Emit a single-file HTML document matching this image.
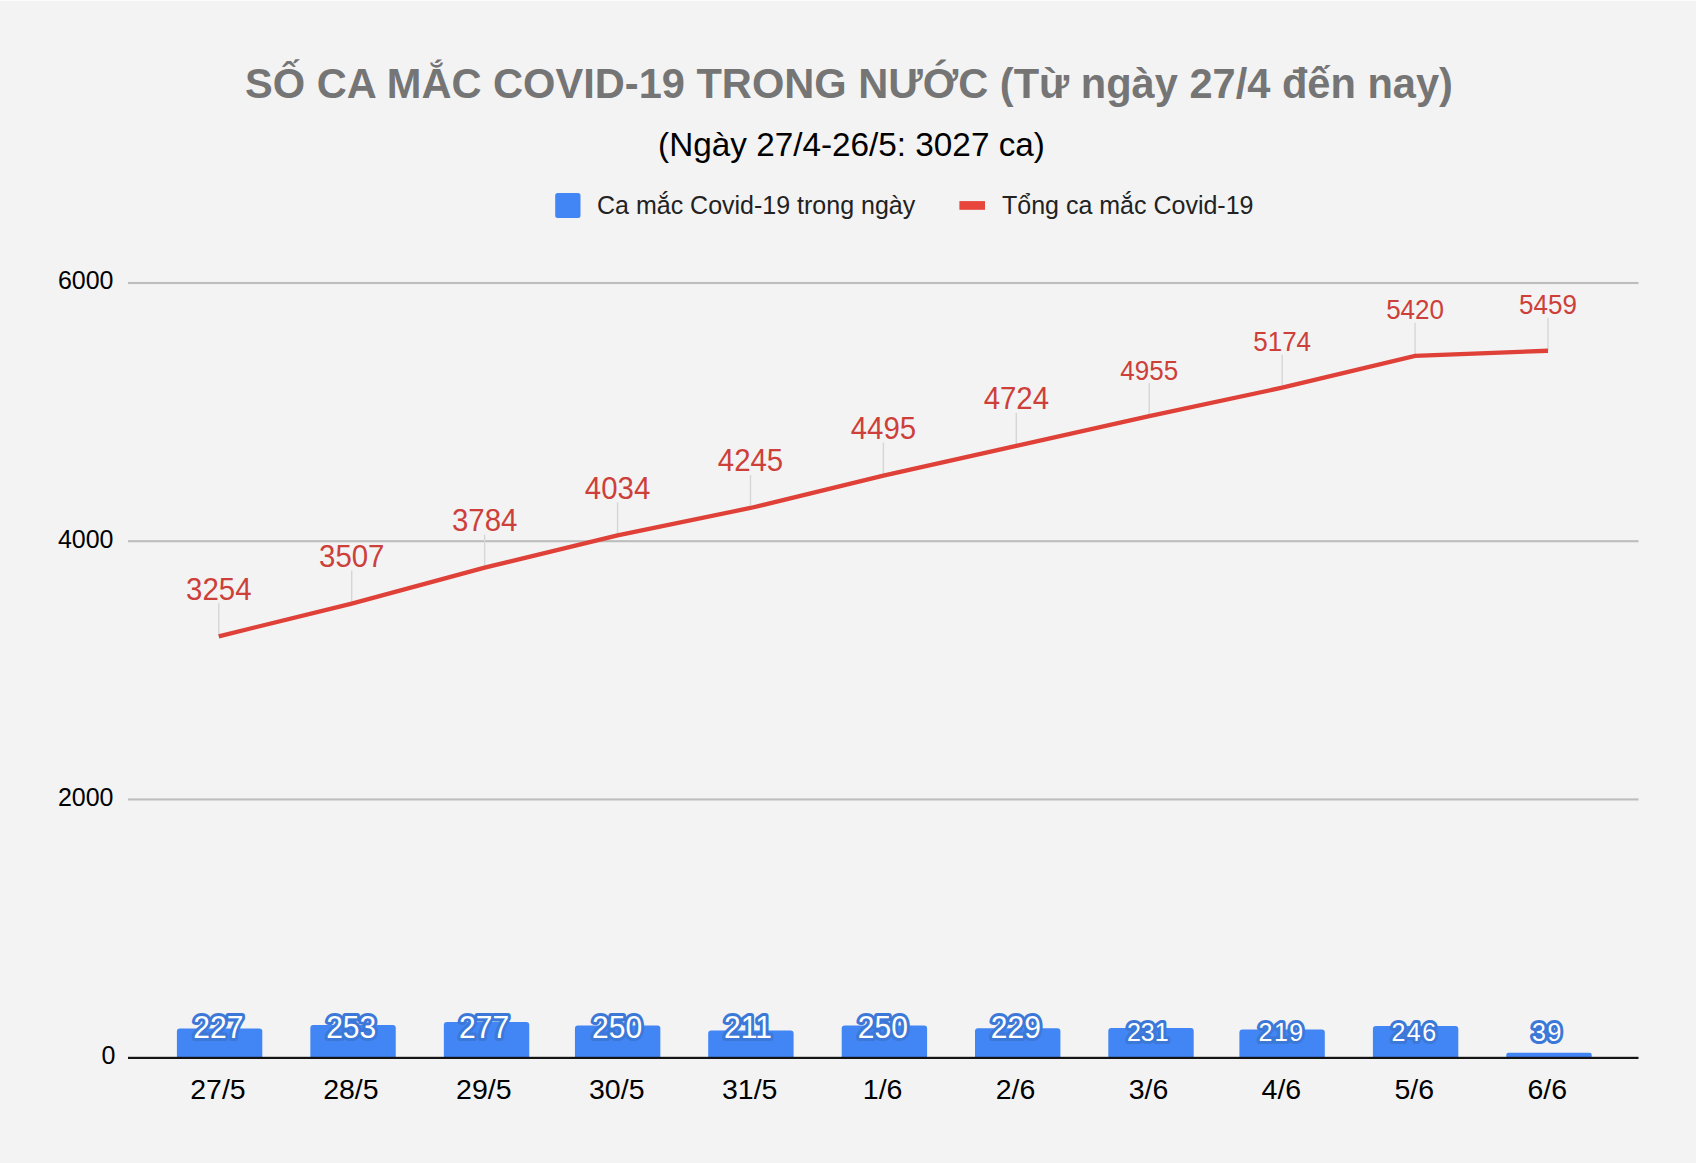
<!DOCTYPE html>
<html><head><meta charset="utf-8"><style>
html,body{margin:0;padding:0;background:#f3f3f3;width:1696px;height:1163px;overflow:hidden}
svg{display:block}
text{font-family:"Liberation Sans",sans-serif}
</style></head><body>
<svg width="1696" height="1163" viewBox="0 0 1696 1163">
<rect width="1696" height="1163" fill="#f3f3f3"/>
<rect width="1696" height="1" fill="#fdfdfd"/>
<text x="849" y="97.8" text-anchor="middle" font-family="Liberation Sans" font-weight="bold" font-size="41.6" fill="#757575">SỐ CA MẮC COVID-19 TRONG NƯỚC (Từ ngày 27/4 đến nay)</text>
<text x="851.5" y="155.8" text-anchor="middle" font-family="Liberation Sans" font-size="33.3" fill="#000">(Ngày 27/4-26/5: 3027 ca)</text>
<rect x="555.2" y="193" width="25.3" height="25" rx="2.5" fill="#4285f4"/>
<text x="597" y="214" font-family="Liberation Sans" font-size="25" fill="#222">Ca mắc Covid-19 trong ngày</text>
<rect x="959.4" y="201.1" width="25.6" height="8.7" fill="#e8453c"/>
<text x="1002" y="214" font-family="Liberation Sans" font-size="25" fill="#222">Tổng ca mắc Covid-19</text>
<rect x="128" y="281.95" width="1510.5" height="2.1" fill="#bdbdbd"/>
<rect x="128" y="540.15" width="1510.5" height="2.1" fill="#bdbdbd"/>
<rect x="128" y="798.40" width="1510.5" height="2.1" fill="#bdbdbd"/>
<text x="113.5" y="289.30" text-anchor="end" font-family="Liberation Sans" font-size="25" fill="#000">6000</text>
<text x="113.5" y="547.50" text-anchor="end" font-family="Liberation Sans" font-size="25" fill="#000">4000</text>
<text x="113.5" y="805.75" text-anchor="end" font-family="Liberation Sans" font-size="25" fill="#000">2000</text>
<text x="115.5" y="1064.20" text-anchor="end" font-family="Liberation Sans" font-size="25" fill="#000">0</text>
<path d="M176.90,1057.70 L176.90,1031.39 Q176.90,1028.39 179.90,1028.39 L259.30,1028.39 Q262.30,1028.39 262.30,1031.39 L262.30,1057.70 Z" fill="#4285f4"/>
<path d="M310.35,1057.70 L310.35,1028.04 Q310.35,1025.04 313.35,1025.04 L392.75,1025.04 Q395.75,1025.04 395.75,1028.04 L395.75,1057.70 Z" fill="#4285f4"/>
<path d="M443.85,1057.70 L443.85,1024.94 Q443.85,1021.94 446.85,1021.94 L526.25,1021.94 Q529.25,1021.94 529.25,1024.94 L529.25,1057.70 Z" fill="#4285f4"/>
<path d="M574.95,1057.70 L574.95,1028.42 Q574.95,1025.42 577.95,1025.42 L657.35,1025.42 Q660.35,1025.42 660.35,1028.42 L660.35,1057.70 Z" fill="#4285f4"/>
<path d="M708.20,1057.70 L708.20,1033.46 Q708.20,1030.46 711.20,1030.46 L790.60,1030.46 Q793.60,1030.46 793.60,1033.46 L793.60,1057.70 Z" fill="#4285f4"/>
<path d="M841.70,1057.70 L841.70,1028.42 Q841.70,1025.42 844.70,1025.42 L924.10,1025.42 Q927.10,1025.42 927.10,1028.42 L927.10,1057.70 Z" fill="#4285f4"/>
<path d="M975.00,1057.70 L975.00,1031.14 Q975.00,1028.14 978.00,1028.14 L1057.40,1028.14 Q1060.40,1028.14 1060.40,1031.14 L1060.40,1057.70 Z" fill="#4285f4"/>
<path d="M1108.30,1057.70 L1108.30,1030.88 Q1108.30,1027.88 1111.30,1027.88 L1190.70,1027.88 Q1193.70,1027.88 1193.70,1030.88 L1193.70,1057.70 Z" fill="#4285f4"/>
<path d="M1239.40,1057.70 L1239.40,1032.43 Q1239.40,1029.43 1242.40,1029.43 L1321.80,1029.43 Q1324.80,1029.43 1324.80,1032.43 L1324.80,1057.70 Z" fill="#4285f4"/>
<path d="M1372.90,1057.70 L1372.90,1028.94 Q1372.90,1025.94 1375.90,1025.94 L1455.30,1025.94 Q1458.30,1025.94 1458.30,1028.94 L1458.30,1057.70 Z" fill="#4285f4"/>
<path d="M1506.30,1057.70 L1506.30,1054.67 Q1506.30,1052.67 1508.30,1052.67 L1589.70,1052.67 Q1591.70,1052.67 1591.70,1054.67 L1591.70,1057.70 Z" fill="#4285f4"/>
<rect x="128" y="1056.8" width="1510.5" height="2.2" fill="#141414"/>
<text transform="translate(218.30,1037.6) scale(1,1.02)" text-anchor="middle" font-family="Liberation Sans" font-size="30" fill="#fff" stroke="#3c78d8" stroke-width="6" stroke-linejoin="round" paint-order="stroke">227</text>
<text transform="translate(351.22,1037.6) scale(1,1.02)" text-anchor="middle" font-family="Liberation Sans" font-size="30" fill="#fff" stroke="#3c78d8" stroke-width="6" stroke-linejoin="round" paint-order="stroke">253</text>
<text transform="translate(484.14,1037.6) scale(1,1.02)" text-anchor="middle" font-family="Liberation Sans" font-size="30" fill="#fff" stroke="#3c78d8" stroke-width="6" stroke-linejoin="round" paint-order="stroke">277</text>
<text transform="translate(617.06,1037.6) scale(1,1.02)" text-anchor="middle" font-family="Liberation Sans" font-size="30" fill="#fff" stroke="#3c78d8" stroke-width="6" stroke-linejoin="round" paint-order="stroke">250</text>
<text transform="translate(747.98,1037.6) scale(1,1.02)" text-anchor="middle" font-family="Liberation Sans" font-size="30" fill="#fff" stroke="#3c78d8" stroke-width="6" stroke-linejoin="round" paint-order="stroke">211</text>
<text transform="translate(882.90,1037.6) scale(1,1.02)" text-anchor="middle" font-family="Liberation Sans" font-size="30" fill="#fff" stroke="#3c78d8" stroke-width="6" stroke-linejoin="round" paint-order="stroke">250</text>
<text transform="translate(1015.82,1037.6) scale(1,1.02)" text-anchor="middle" font-family="Liberation Sans" font-size="30" fill="#fff" stroke="#3c78d8" stroke-width="6" stroke-linejoin="round" paint-order="stroke">229</text>
<text transform="translate(1147.74,1041.2) scale(1,1.02)" text-anchor="middle" font-family="Liberation Sans" font-size="25" fill="#fff" stroke="#3c78d8" stroke-width="6" stroke-linejoin="round" paint-order="stroke">231</text>
<text transform="translate(1281.66,1041.2) scale(1,1.02)" text-anchor="middle" font-family="Liberation Sans" font-size="25" letter-spacing="1.5" fill="#fff" stroke="#3c78d8" stroke-width="6" stroke-linejoin="round" paint-order="stroke">219</text>
<text transform="translate(1414.58,1041.2) scale(1,1.02)" text-anchor="middle" font-family="Liberation Sans" font-size="25" letter-spacing="1.5" fill="#fff" stroke="#3c78d8" stroke-width="6" stroke-linejoin="round" paint-order="stroke">246</text>
<text transform="translate(1547.50,1041.2) scale(1,1.02)" text-anchor="middle" font-family="Liberation Sans" font-size="25" letter-spacing="1.5" fill="#fff" stroke="#3c78d8" stroke-width="6" stroke-linejoin="round" paint-order="stroke">39</text>
<text x="218.00" y="1098.7" text-anchor="middle" font-family="Liberation Sans" font-size="28.5" fill="#000">27/5</text>
<text x="350.92" y="1098.7" text-anchor="middle" font-family="Liberation Sans" font-size="28.5" fill="#000">28/5</text>
<text x="483.84" y="1098.7" text-anchor="middle" font-family="Liberation Sans" font-size="28.5" fill="#000">29/5</text>
<text x="616.76" y="1098.7" text-anchor="middle" font-family="Liberation Sans" font-size="28.5" fill="#000">30/5</text>
<text x="749.68" y="1098.7" text-anchor="middle" font-family="Liberation Sans" font-size="28.5" fill="#000">31/5</text>
<text x="882.60" y="1098.7" text-anchor="middle" font-family="Liberation Sans" font-size="28.5" fill="#000">1/6</text>
<text x="1015.52" y="1098.7" text-anchor="middle" font-family="Liberation Sans" font-size="28.5" fill="#000">2/6</text>
<text x="1148.44" y="1098.7" text-anchor="middle" font-family="Liberation Sans" font-size="28.5" fill="#000">3/6</text>
<text x="1281.36" y="1098.7" text-anchor="middle" font-family="Liberation Sans" font-size="28.5" fill="#000">4/6</text>
<text x="1414.28" y="1098.7" text-anchor="middle" font-family="Liberation Sans" font-size="28.5" fill="#000">5/6</text>
<text x="1547.20" y="1098.7" text-anchor="middle" font-family="Liberation Sans" font-size="28.5" fill="#000">6/6</text>
<rect x="218.10" y="603.31" width="1.4" height="33" fill="#d6d6d6"/>
<rect x="351.02" y="570.54" width="1.4" height="33" fill="#d6d6d6"/>
<rect x="483.94" y="534.67" width="1.4" height="33" fill="#d6d6d6"/>
<rect x="616.86" y="502.30" width="1.4" height="33" fill="#d6d6d6"/>
<rect x="749.78" y="474.97" width="1.4" height="33" fill="#d6d6d6"/>
<rect x="882.70" y="442.60" width="1.4" height="33" fill="#d6d6d6"/>
<rect x="1015.62" y="412.94" width="1.4" height="33" fill="#d6d6d6"/>
<rect x="1148.54" y="383.03" width="1.4" height="33" fill="#d6d6d6"/>
<rect x="1281.46" y="354.67" width="1.4" height="33" fill="#d6d6d6"/>
<rect x="1414.38" y="322.81" width="1.4" height="33" fill="#d6d6d6"/>
<rect x="1547.30" y="317.76" width="1.4" height="33" fill="#d6d6d6"/>
<path d="M218.80,636.31 L351.72,603.54 L484.64,567.67 L617.56,535.30 L750.48,507.97 L883.40,475.60 L1016.32,445.94 L1149.24,416.03 L1282.16,387.67 L1415.08,355.81 L1548.00,350.76" fill="none" stroke="#df4037" stroke-width="4.3" stroke-linejoin="miter"/>
<text transform="translate(218.80,599.81) scale(0.98,1.06)" text-anchor="middle" font-family="Liberation Sans" font-size="30" fill="#cd4039">3254</text>
<text transform="translate(351.72,567.04) scale(0.98,1.06)" text-anchor="middle" font-family="Liberation Sans" font-size="30" fill="#cd4039">3507</text>
<text transform="translate(484.64,531.17) scale(0.98,1.06)" text-anchor="middle" font-family="Liberation Sans" font-size="30" fill="#cd4039">3784</text>
<text transform="translate(617.56,498.80) scale(0.98,1.06)" text-anchor="middle" font-family="Liberation Sans" font-size="30" fill="#cd4039">4034</text>
<text transform="translate(750.48,471.47) scale(0.98,1.06)" text-anchor="middle" font-family="Liberation Sans" font-size="30" fill="#cd4039">4245</text>
<text transform="translate(883.40,439.10) scale(0.98,1.06)" text-anchor="middle" font-family="Liberation Sans" font-size="30" fill="#cd4039">4495</text>
<text transform="translate(1016.32,409.44) scale(0.98,1.06)" text-anchor="middle" font-family="Liberation Sans" font-size="30" fill="#cd4039">4724</text>
<text transform="translate(1149.24,379.53) scale(1.0,1.03)" text-anchor="middle" font-family="Liberation Sans" font-size="26" fill="#cd4039">4955</text>
<text transform="translate(1282.16,351.17) scale(1.0,1.03)" text-anchor="middle" font-family="Liberation Sans" font-size="26" fill="#cd4039">5174</text>
<text transform="translate(1415.08,319.31) scale(1.0,1.03)" text-anchor="middle" font-family="Liberation Sans" font-size="26" fill="#cd4039">5420</text>
<text transform="translate(1548.00,314.26) scale(1.0,1.03)" text-anchor="middle" font-family="Liberation Sans" font-size="26" fill="#cd4039">5459</text>
</svg>
</body></html>
